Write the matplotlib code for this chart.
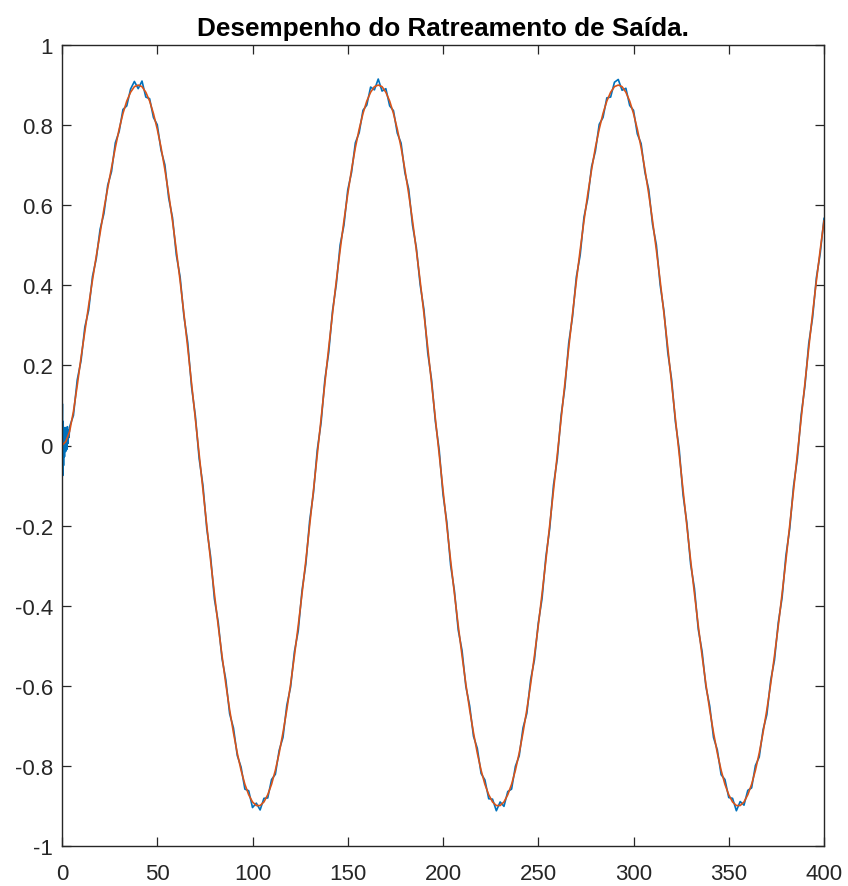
import matplotlib.pyplot as plt
import numpy as np

plt.rcParams['font.family'] = ['Liberation Sans', 'DejaVu Sans']
plt.rcParams['axes.unicode_minus'] = False

# saída do modelo de referência, amostrada a cada 2 unidades (t = 0 ... 400)
y_ref = [
    0.000, 0.010, 0.035, 0.085, 0.150, 0.220, 0.285, 0.350, 0.413, 0.473,
    0.530, 0.590, 0.643, 0.693, 0.744, 0.790, 0.829, 0.860, 0.882, 0.896,
    0.900, 0.896, 0.882, 0.860, 0.829, 0.790, 0.744, 0.689, 0.628, 0.561,
    0.488, 0.411, 0.329, 0.244, 0.156, 0.067, -0.022, -0.112, -0.200, -0.287,
    -0.370, -0.450, -0.525, -0.596, -0.660, -0.717, -0.768, -0.811, -0.846, -0.872,
    -0.890, -0.899, -0.899, -0.890, -0.872, -0.846, -0.811, -0.768, -0.717, -0.660,
    -0.596, -0.525, -0.450, -0.370, -0.287, -0.200, -0.112, -0.022, 0.067, 0.156,
    0.244, 0.329, 0.411, 0.488, 0.561, 0.628, 0.689, 0.744, 0.790, 0.829,
    0.860, 0.882, 0.896, 0.900, 0.896, 0.882, 0.860, 0.829, 0.790, 0.744,
    0.689, 0.628, 0.561, 0.488, 0.411, 0.329, 0.244, 0.156, 0.067, -0.022,
    -0.112, -0.200, -0.287, -0.370, -0.450, -0.525, -0.596, -0.660, -0.717, -0.768,
    -0.811, -0.846, -0.872, -0.890, -0.899, -0.899, -0.890, -0.872, -0.846, -0.811,
    -0.768, -0.717, -0.660, -0.596, -0.525, -0.450, -0.370, -0.287, -0.200, -0.112,
    -0.022, 0.067, 0.156, 0.244, 0.329, 0.411, 0.488, 0.561, 0.628, 0.689,
    0.744, 0.790, 0.829, 0.860, 0.882, 0.896, 0.900, 0.896, 0.882, 0.860,
    0.829, 0.790, 0.744, 0.689, 0.628, 0.561, 0.488, 0.411, 0.329, 0.244,
    0.156, 0.067, -0.022, -0.112, -0.200, -0.287, -0.370, -0.450, -0.525, -0.596,
    -0.660, -0.717, -0.768, -0.811, -0.846, -0.872, -0.890, -0.899, -0.899, -0.890,
    -0.872, -0.846, -0.811, -0.768, -0.717, -0.660, -0.596, -0.525, -0.450, -0.370,
    -0.287, -0.200, -0.112, -0.022, 0.067, 0.156, 0.244, 0.329, 0.411, 0.488,
    0.561,
]

# desvio da saída da planta em relação à referência (mesmos instantes)
desvio = [
    0.000, 0.000, 0.012, -0.010, 0.014, -0.008, 0.011, -0.012, 0.009, -0.006,
    0.010, -0.011, 0.007, -0.009, 0.012, -0.006, 0.010, -0.012, 0.008, 0.013,
    -0.009, 0.014, -0.012, 0.006, -0.010, 0.011, -0.007, 0.012, -0.010, 0.008,
    -0.012, 0.010, -0.006, 0.013, -0.009, 0.007, -0.011, 0.012, -0.008, 0.010,
    -0.013, 0.009, -0.007, 0.011, -0.010, 0.012, -0.006, 0.008, -0.012, 0.010,
    -0.014, 0.006, -0.011, 0.009, -0.008, 0.012, -0.010, 0.007, -0.012, 0.011,
    -0.007, 0.010, -0.013, 0.008, -0.009, 0.012, -0.006, 0.011, -0.010, 0.009,
    -0.012, 0.007, -0.008, 0.013, -0.011, 0.010, -0.007, 0.012, -0.009, 0.008,
    -0.010, 0.013, -0.008, 0.015, -0.011, 0.009, -0.012, 0.007, -0.010, 0.011,
    -0.008, 0.012, -0.011, 0.006, -0.009, 0.010, -0.013, 0.008, -0.007, 0.011,
    -0.010, 0.009, -0.012, 0.007, -0.011, 0.013, -0.006, 0.010, -0.009, 0.012,
    -0.008, 0.011, -0.010, 0.007, -0.013, 0.009, -0.011, 0.008, -0.012, 0.010,
    -0.007, 0.012, -0.009, 0.011, -0.010, 0.006, -0.012, 0.009, -0.008, 0.013,
    -0.011, 0.008, -0.010, 0.012, -0.007, 0.010, -0.013, 0.009, -0.011, 0.007,
    -0.009, 0.012, -0.010, 0.008, -0.012, 0.011, 0.014, -0.009, 0.010, -0.011,
    0.008, -0.012, 0.010, -0.007, 0.011, -0.009, 0.013, -0.010, 0.006, -0.012,
    0.009, -0.008, 0.012, -0.011, 0.007, -0.010, 0.013, -0.009, 0.011, -0.006,
    0.010, -0.012, 0.008, -0.011, 0.012, -0.007, 0.009, -0.013, 0.010, -0.008,
    0.011, -0.009, 0.012, -0.010, 0.007, -0.012, 0.009, -0.011, 0.008, -0.010,
    0.012, -0.008, 0.010, -0.011, 0.009, -0.007, 0.011, -0.010, 0.008, -0.009,
    0.006,
]

# transitório inicial da saída da planta (t < 4)
t_ini = [0.0, 0.2, 0.4, 0.6, 0.8, 1.0, 1.3, 1.6, 1.9, 2.2, 2.5, 2.8, 3.1, 3.4, 3.7]
y_ini = [0.000, 0.104, -0.075, 0.060, -0.050, 0.030, -0.028, 0.045, -0.015,
         0.040, -0.010, 0.047, 0.005, 0.038, 0.020]

x_ticks = [0, 50, 100, 150, 200, 250, 300, 350, 400]
y_ticks = [-1, -0.8, -0.6, -0.4, -0.2, 0, 0.2, 0.4, 0.6, 0.8, 1]
y_labels = ['-1', '-0.8', '-0.6', '-0.4', '-0.2', '0', '0.2', '0.4', '0.6', '0.8', '1']

t = np.arange(0, 401, 2)
y_ref = np.array(y_ref)
y_planta = y_ref + np.array(desvio)

fig = plt.figure(figsize=(8.48, 8.87), dpi=100)
ax = fig.add_axes([62 / 848, 1 - 847 / 887, (824 - 62) / 848, (847 - 46) / 887])

ax.plot(np.concatenate([t_ini, t[2:]]), np.concatenate([y_ini, y_planta[2:]]),
        color='#0072BD', lw=1.2)
ax.plot(t, y_ref, color='#D95319', lw=1.2)

ax.set_xlim(0, 400)
ax.set_ylim(-1, 1)
ax.set_xticks(x_ticks)
ax.set_yticks(y_ticks)
ax.set_yticklabels(y_labels)

cinza = '#262626'
ax.tick_params(direction='in', top=True, right=True, length=6.5, width=0.9,
               labelsize=16, colors=cinza)
ax.tick_params(axis='x', pad=12)
ax.tick_params(axis='y', pad=6.5)
for s in ax.spines.values():
    s.set_color(cinza)
    s.set_linewidth(1.0)

ax.set_title('Desempenho do Ratreamento de Saída.', fontsize=18.8,
             fontweight='bold', pad=7, color='black')

fig.savefig('out.png', dpi=100)
